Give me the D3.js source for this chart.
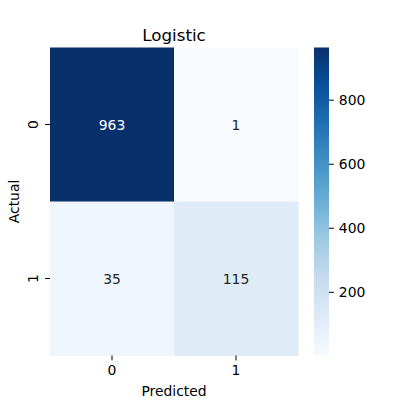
<!DOCTYPE html>
<html><head><meta charset="utf-8">
<script src="https://cdn.jsdelivr.net/npm/d3@7"></script>
<style>body{margin:0;background:#fff}svg{display:block}text{font-family:"DejaVu Sans",sans-serif}</style>
</head><body>
<script>
const title = "Logistic";
const actualLabels = ["0", "1"];
const predictedLabels = ["0", "1"];
const matrix = [[963, 1], [35, 115]];
const colorbarTicks = [200, 400, 600, 800];
const bluesStops = ["#f7fbff","#deebf7","#c6dbef","#9ecae1","#6baed6","#4292c6","#2171b5","#08519c","#08306b"];

(function () {
const W = 400, H = 400;
const svg = d3.select("body").append("svg").attr("width", W).attr("height", H);
const fs = 13.9;

const pL = 50, pR = 298, pT = 47.5, pB = 355.5;
const x = d3.scaleBand().domain(predictedLabels).range([pL, pR]);
const y = d3.scaleBand().domain(actualLabels).range([pT, pB]);

const flat = matrix.flat();
const vmin = d3.min(flat), vmax = d3.max(flat);
const t = d3.scaleLinear().domain([vmin, vmax]).range([0, 1]);
const cmapPos = d3.scaleLinear().domain(d3.range(bluesStops.length).map(i => i / (bluesStops.length - 1))).range(bluesStops).interpolate(d3.interpolateRgb);
const color = v => cmapPos(t(v));

function lumin(c) {
  const r = d3.rgb(c);
  const f = u => { u /= 255; return u <= 0.03928 ? u / 12.92 : Math.pow((u + 0.055) / 1.055, 2.4); };
  return 0.2126 * f(r.r) + 0.7152 * f(r.g) + 0.0722 * f(r.b);
}

const cells = [];
matrix.forEach((row, i) => row.forEach((v, j) => cells.push({a: actualLabels[i], p: predictedLabels[j], v})));

svg.append("g").selectAll("rect").data(cells).join("rect")
  .attr("x", d => x(d.p)).attr("y", d => y(d.a))
  .attr("width", x.bandwidth() + 0.5).attr("height", y.bandwidth() + 0.5)
  .attr("fill", d => color(d.v));

svg.append("g").selectAll("text").data(cells).join("text")
  .attr("x", d => x(d.p) + x.bandwidth() / 2).attr("y", d => y(d.a) + y.bandwidth() / 2)
  .attr("text-anchor", "middle").attr("dominant-baseline", "central")
  .attr("font-size", fs)
  .attr("fill", d => lumin(color(d.v)) > 0.408 ? "#262626" : "#fff")
  .text(d => d.v);

// x axis
const xa = svg.append("g").attr("transform", `translate(0,${pB})`)
  .call(d3.axisBottom(x).tickSize(4.9).tickPadding(4.9));
xa.select(".domain").remove();
xa.selectAll("text").attr("font-size", fs).attr("fill", "#000").style("font-family", "DejaVu Sans");
xa.selectAll("line").attr("stroke", "#000").attr("stroke-width", 1);

// y axis
const ya = svg.append("g").attr("transform", `translate(${pL},0)`)
  .call(d3.axisLeft(y).tickSize(4.9).tickPadding(4.9));
ya.select(".domain").remove();
ya.selectAll("line").attr("stroke", "#000").attr("stroke-width", 1);
ya.selectAll("text").attr("font-size", fs).attr("fill", "#000").style("font-family", "DejaVu Sans")
  .attr("x", null).attr("dy", null).attr("text-anchor", "middle").attr("dominant-baseline", "auto")
  .attr("transform", `translate(-11.7,0) rotate(-90)`);

svg.append("text").attr("x", (pL + pR) / 2).attr("y", 396).attr("text-anchor", "middle")
  .attr("font-size", fs).attr("fill", "#000").text("Predicted");
svg.append("text").attr("transform", `translate(18.8,${(pT + pB) / 2}) rotate(-90)`).attr("text-anchor", "middle")
  .attr("font-size", fs).attr("fill", "#000").text("Actual");
svg.append("text").attr("x", (pL + pR) / 2).attr("y", 41).attr("text-anchor", "middle")
  .attr("font-size", 16.7).attr("fill", "#000").text(title);

// colorbar
const cbL = 314, cbR = 329;
const cy = d3.scaleLinear().domain([vmin, vmax]).range([pB, pT]);
const defs = svg.append("defs");
const grad = defs.append("linearGradient").attr("id", "cb").attr("x1", 0).attr("x2", 0).attr("y1", 1).attr("y2", 0);
bluesStops.forEach((c, i) => grad.append("stop").attr("offset", i / (bluesStops.length - 1)).attr("stop-color", c));
svg.append("rect").attr("x", cbL).attr("y", pT).attr("width", cbR - cbL).attr("height", pB - pT).attr("fill", "url(#cb)");
const ca = svg.append("g").attr("transform", `translate(${cbR},0)`)
  .call(d3.axisRight(cy).tickValues(colorbarTicks).tickSize(4.9).tickPadding(4.9));
ca.select(".domain").remove();
ca.selectAll("line").attr("stroke", "#000");
ca.selectAll("text").attr("font-size", fs).attr("fill", "#000").style("font-family", "DejaVu Sans");
})();
</script>
</body></html>
